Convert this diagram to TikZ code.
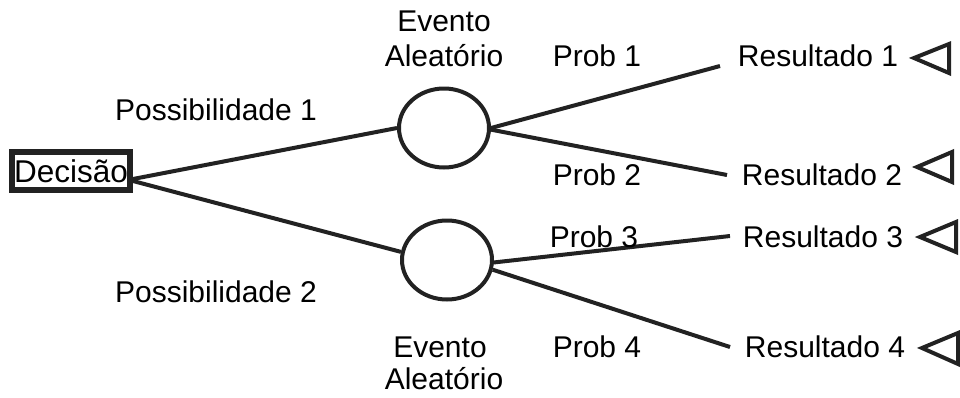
\documentclass[tikz,border=0pt]{standalone}
\usepackage{fontspec}
\setmainfont{Liberation Sans}
\usetikzlibrary{shapes.geometric}
\definecolor{ink}{HTML}{222222}
\begin{document}
\begin{tikzpicture}[x=1pt,y=-1pt,
  lbl/.style={font=\fontsize{30}{33}\selectfont, inner sep=0pt, text=black},
  chance/.style={draw=ink, line width=4pt, ellipse, minimum width=90pt, minimum height=79pt, inner sep=0pt},
  decbox/.style={draw=ink, line width=6pt, rectangle, minimum width=118pt, minimum height=38pt, inner sep=0pt, font=\fontsize{31.5}{34}\selectfont},
  branch/.style={draw=ink, line width=4pt},
  endtri/.style={draw=ink, line width=4pt, line join=miter}]
\useasboundingbox (0,0) rectangle (960,397);
\fill[white] (0,0) rectangle (960,397);

\node[decbox] (dec) at (71,171) {Decisão};
\node[chance] (c1) at (444,128) {};
\node[chance] (c2) at (447,260) {};

\coordinate (e1) at (720,66);
\coordinate (e2) at (727,175);
\coordinate (e3) at (730,236);
\coordinate (e4) at (730,347);

\draw[branch] ([yshift=-8pt]dec.east) -- (c1.west);
\draw[branch] ([yshift=-10pt]dec.east) -- (c2.170);
\draw[branch] (c1.east) -- (e1);
\draw[branch] (c1.-2) -- (e2);
\draw[branch] (c2.-3) -- (e3);
\draw[branch] (c2.-12) -- (e4);

\node[lbl] (ev1a) at (444,21) {Evento};
\node[lbl] (ev1b) at (444,56) {Aleatório};
\node[lbl] (ev2a) at (440,347) {Evento};
\node[lbl] (ev2b) at (444,379) {Aleatório};

\node[lbl] (p1) at (216,110) {Possibilidade 1};
\node[lbl] (p2) at (216,292) {Possibilidade 2};

\node[lbl] (pr1) at (597,56) {Prob 1};
\node[lbl] (pr2) at (597,175) {Prob 2};
\node[lbl] (pr3) at (594,237) {Prob 3};
\node[lbl] (pr4) at (597,347) {Prob 4};

\node[lbl] (r1) at (818,56) {Resultado 1};
\node[lbl] (r2) at (822,175) {Resultado 2};
\node[lbl] (r3) at (823,237) {Resultado 3};
\node[lbl] (r4) at (825,347) {Resultado 4};

\draw[endtri] (914,58) -- (949,44) -- (949,73) -- cycle;
\draw[endtri] (917,167) -- (952,152) -- (952,182) -- cycle;
\draw[endtri] (920,237) -- (956,222) -- (956,252) -- cycle;
\draw[endtri] (922,348) -- (958,333) -- (958,364) -- cycle;
\end{tikzpicture}
\end{document}
